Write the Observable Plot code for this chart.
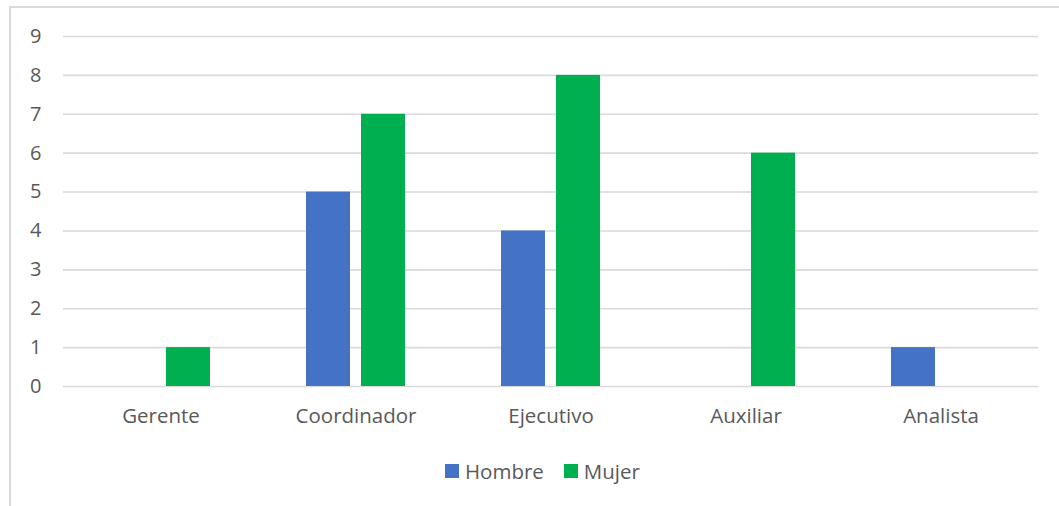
<!DOCTYPE html>
<html>
<head>
<meta charset="utf-8">
<script src="https://cdn.jsdelivr.net/npm/d3@7"></script>
<script src="https://cdn.jsdelivr.net/npm/@observablehq/plot@0.6"></script>
<style>
  html, body { margin: 0; padding: 0; background: #fff; }
  body { width: 1059px; height: 506px; position: relative; overflow: hidden; font-family: "Open Sans", sans-serif; }
  #frame { position: absolute; left: 9px; top: 6px; width: 1100px; height: 600px; border: 2px solid #d9d9d9; box-sizing: border-box; }
  #chart { position: absolute; left: 0; top: 0; }
  #legend { position: absolute; left: 445px; top: 457px; display: flex; align-items: center; font-size: 20.5px; color: #595959; }
  #legend .sw { width: 14px; height: 14px; display: inline-block; margin-right: 6px; }
  #legend .item { display: flex; align-items: center; margin-right: 20px; }
</style>
</head>
<body>
<div id="frame"></div>
<div id="chart"></div>
<div id="legend"></div>
<script>
const categories = ["Gerente", "Coordinador", "Ejecutivo", "Auxiliar", "Analista"];
const series = ["Hombre", "Mujer"];
const hombre = [0, 5, 4, 0, 1];
const mujer = [1, 7, 8, 6, 0];
const colors = ["#4472C4", "#00B050"];
const yTicks = [0, 1, 2, 3, 4, 5, 6, 7, 8, 9];

const data = [];
categories.forEach((c, i) => {
  data.push({cat: c, series: "Hombre", value: hombre[i]});
  data.push({cat: c, series: "Mujer", value: mujer[i]});
});

const chart = Plot.plot({
  width: 1059,
  height: 440,
  marginLeft: 62,
  marginRight: 21,
  marginTop: 36,
  marginBottom: 54,
  style: {fontFamily: "'Open Sans', sans-serif", fontSize: "20px", color: "#595959", background: "transparent"},
  fx: {domain: categories, padding: 0, label: null},
  x: {domain: series, axis: null, paddingInner: 0.2, paddingOuter: 0.86},
  y: {domain: [0, 9], label: null},
  color: {domain: series, range: colors},
  marks: [
    Plot.gridY(yTicks, {stroke: "#d9d9d9", strokeOpacity: 1, strokeWidth: 1.6}),
    Plot.barY(data, {fx: "cat", x: "series", y: "value", fill: "series"}),
    Plot.axisY(yTicks, {tickSize: 0, tickPadding: 22, fill: "#595959", fontSize: 20, label: null}),
    Plot.axisFx({anchor: "bottom", tickSize: 0, tickPadding: 22, fill: "#595959", fontSize: 20.5, label: null})
  ]
});
document.getElementById("chart").appendChild(chart);

const legend = document.getElementById("legend");
series.forEach((s, i) => {
  const item = document.createElement("div");
  item.className = "item";
  const sw = document.createElement("span");
  sw.className = "sw";
  sw.style.background = colors[i];
  const label = document.createElement("span");
  label.textContent = s;
  item.appendChild(sw);
  item.appendChild(label);
  legend.appendChild(item);
});
</script>
</body>
</html>
